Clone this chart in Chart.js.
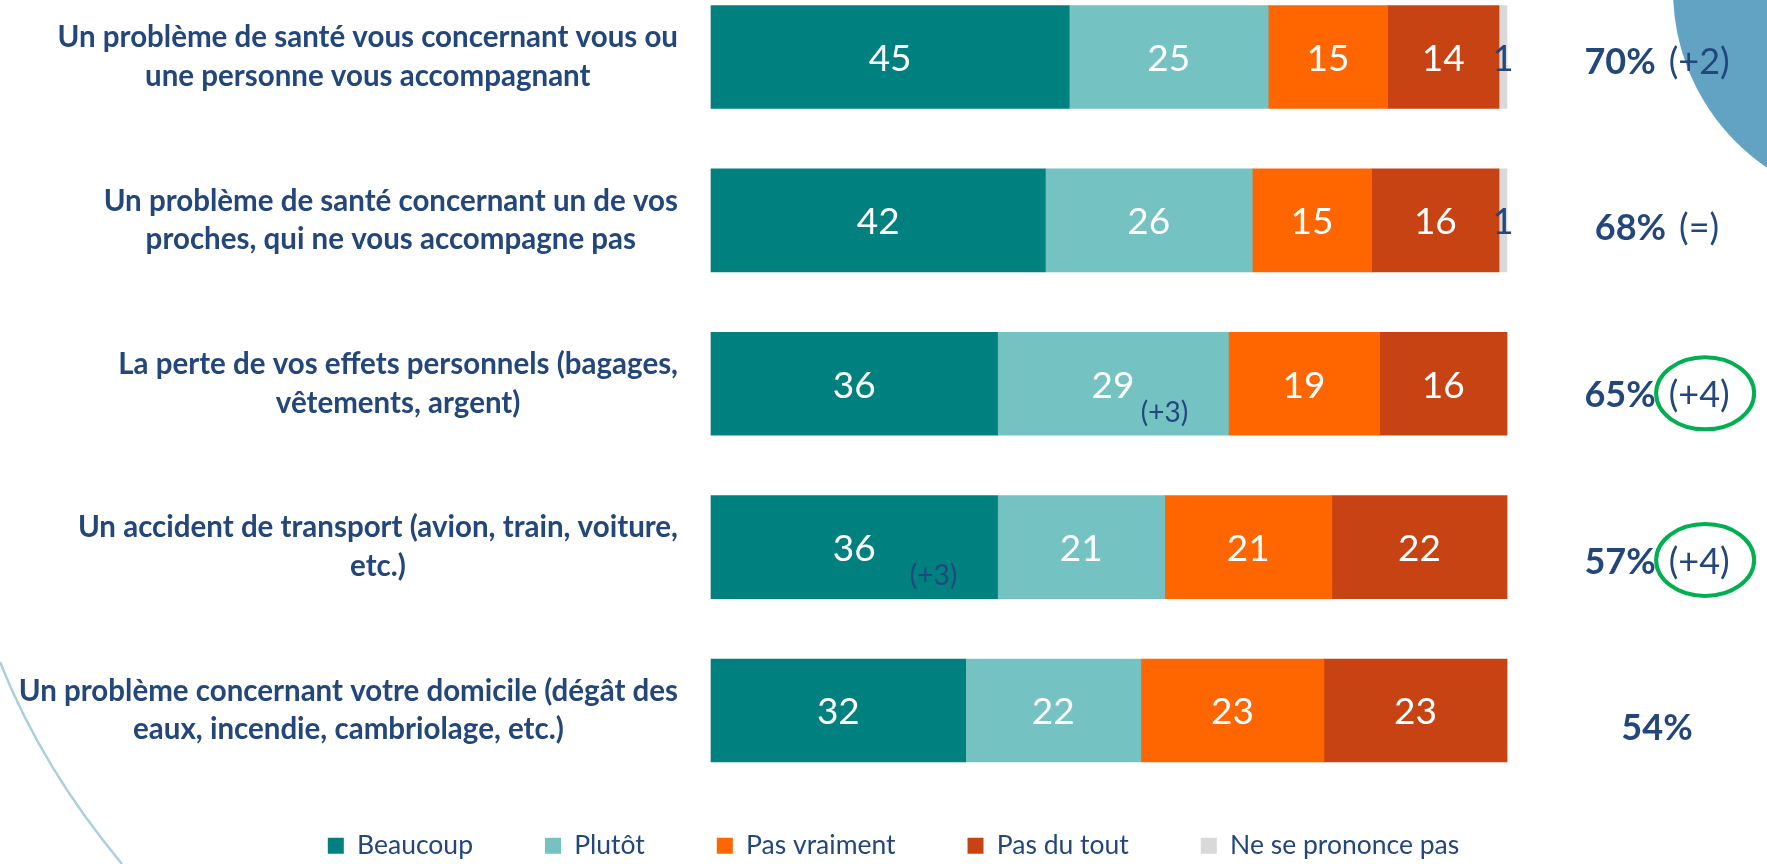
<!DOCTYPE html>
<html lang="fr">
<head>
<meta charset="utf-8">
<title>Craintes en voyage</title>
<script src="https://cdn.jsdelivr.net/npm/chart.js@4/dist/chart.umd.min.js"></script>
<style>
  html, body { margin: 0; padding: 0; background: #fff; }
  #chart { display: block; }
</style>
</head>
<body>
<canvas id="chart" width="1767" height="864"></canvas>
<script>
// Categories, one array entry per printed line
const categories = [
  ['Un problème de santé vous concernant vous ou', 'une personne vous accompagnant'],
  ['Un problème de santé concernant un de vos', 'proches, qui ne vous accompagne pas'],
  ['La perte de vos effets personnels (bagages,', 'vêtements, argent)'],
  ['Un accident de transport (avion, train, voiture,', 'etc.)'],
  ['Un problème concernant votre domicile (dégât des', 'eaux, incendie, cambriolage, etc.)']
];

const seriesNames = ['Beaucoup', 'Plutôt', 'Pas vraiment', 'Pas du tout', 'Ne se prononce pas'];
const beaucoup    = [45, 42, 36, 36, 32];
const plutot      = [25, 26, 29, 21, 22];
const pasVraiment = [15, 15, 19, 21, 23];
const pasDuTout   = [14, 16, 16, 22, 23];
const nsp         = [1, 1, 0, 0, 0];
const seriesValues = [beaucoup, plutot, pasVraiment, pasDuTout, nsp];

// Right hand column: total "concerned" and evolution
const totals     = ['70%', '68%', '65%', '57%', '54%'];
const evolutions = ['(+2)', '(=)', '(+4)', '(+4)', ''];
const circled    = [false, false, true, true, false];

// Small evolution notes written inside a segment
const noteRows   = [2, 3];
const noteSeries = [1, 0];
const noteTexts  = ['(+3)', '(+3)'];

const COLORS = ['#00807f', '#74c3c2', '#ff6600', '#c84313', '#d9d9d9'];
const NAVY = '#23477b';
const FONT = 'Lato, "Open Sans", sans-serif';

// Background shapes of the slide (blue disc top right, thin arc bottom left)
const backdrop = {
  id: 'backdrop',
  beforeDraw(chart) {
    const ctx = chart.ctx;
    ctx.save();
    ctx.fillStyle = '#62a3c4';
    ctx.beginPath();
    ctx.arc(1888, -10, 215, 0, Math.PI * 2);
    ctx.fill();
    ctx.strokeStyle = '#a9cfe0';
    ctx.lineWidth = 2.5;
    ctx.beginPath();
    ctx.moveTo(0, 662);
    ctx.quadraticCurveTo(42, 768, 122, 864);
    ctx.stroke();
    ctx.restore();
  }
};

// Category labels: block right aligned against the bars, lines centred
const categoryLabels = {
  id: 'categoryLabels',
  afterDraw(chart) {
    const {ctx, scales: {y}} = chart;
    ctx.save();
    ctx.font = 'bold 29.5px ' + FONT;
    ctx.fillStyle = NAVY;
    ctx.textAlign = 'center';
    ctx.textBaseline = 'middle';
    const right = chart.chartArea.left - 33;
    const lineH = 38.5;
    categories.forEach((lines, i) => {
      const w = Math.max(...lines.map(l => ctx.measureText(l).width));
      const cx = right - w / 2;
      const cy = y.getPixelForValue(i);
      lines.forEach((l, k) => {
        ctx.fillText(l, cx, cy + (k - (lines.length - 1) / 2) * lineH);
      });
    });
    ctx.restore();
  }
};

// Values inside each segment + the small "(+3)" notes
const valueLabels = {
  id: 'valueLabels',
  afterDatasetsDraw(chart) {
    const ctx = chart.ctx;
    ctx.save();
    ctx.font = '37px ' + FONT;
    ctx.textAlign = 'center';
    ctx.textBaseline = 'middle';
    chart.data.datasets.forEach((ds, di) => {
      chart.getDatasetMeta(di).data.forEach((bar, i) => {
        const v = ds.data[i];
        if (!v) return;
        ctx.fillStyle = di === 4 ? NAVY : '#fff';
        ctx.fillText(v, (bar.x + bar.base) / 2, bar.y + 2);
      });
    });
    ctx.font = '28px ' + FONT;
    ctx.fillStyle = NAVY;
    noteRows.forEach((row, k) => {
      const bar = chart.getDatasetMeta(noteSeries[k]).data[row];
      ctx.fillText(noteTexts[k], bar.x - 64, bar.y + 29);
    });
    ctx.restore();
  }
};

// Totals column on the right
const totalLabels = {
  id: 'totalLabels',
  afterDraw(chart) {
    const {ctx, scales: {y}} = chart;
    const cx = chart.chartArea.right + 150;
    ctx.save();
    ctx.textBaseline = 'middle';
    ctx.textAlign = 'left';
    ctx.fillStyle = NAVY;
    totals.forEach((t, i) => {
      const ty = y.getPixelForValue(i) + 5 + i * 3.3;
      const evo = evolutions[i];
      ctx.font = 'bold 36px ' + FONT;
      const wb = ctx.measureText(t).width;
      ctx.font = '36px ' + FONT;
      const we = evo ? ctx.measureText(evo).width : 0;
      const gap = evo ? 13 : 0;
      const x0 = cx - (wb + gap + we) / 2;
      ctx.font = 'bold 36px ' + FONT;
      ctx.fillText(t, x0, ty);
      if (!evo) return;
      ctx.font = '36px ' + FONT;
      ctx.fillText(evo, x0 + wb + gap, ty);
      if (circled[i]) {
        ctx.strokeStyle = '#00b050';
        ctx.lineWidth = 4;
        ctx.beginPath();
        ctx.ellipse(x0 + wb + gap + we / 2 + 6, ty - 2, 49, 36, 0, 0, Math.PI * 2);
        ctx.stroke();
      }
    });
    ctx.restore();
  }
};

const hidden = {
  grid: { display: false },
  border: { display: false },
  ticks: { display: false }
};

new Chart(document.getElementById('chart'), {
  type: 'bar',
  data: {
    labels: categories,
    datasets: seriesNames.map((name, i) => ({
      label: name,
      data: seriesValues[i],
      backgroundColor: COLORS[i],
      borderWidth: 0,
      barThickness: 103,
      clip: false
    }))
  },
  options: {
    indexAxis: 'y',
    responsive: false,
    animation: false,
    layout: { padding: { top: 57, bottom: -5, left: 20, right: 0 } },
    scales: {
      x: {
        ...hidden,
        stacked: true,
        min: 0,
        max: 100,
        afterFit(s) { s.height = 50; }
      },
      y: {
        ...hidden,
        stacked: true,
        offset: false,
        afterFit(s) { s.width = 691; }
      },
      yRight: {
        ...hidden,
        type: 'category',
        axis: 'y',
        position: 'right',
        afterFit(s) { s.width = 260; }
      }
    },
    plugins: {
      legend: {
        position: 'bottom',
        labels: {
          boxWidth: 16,
          boxHeight: 16,
          padding: 72,
          color: NAVY,
          font: { family: FONT, size: 26.5 }
        }
      },
      tooltip: { enabled: false }
    }
  },
  plugins: [backdrop, categoryLabels, valueLabels, totalLabels]
});
</script>
</body>
</html>
